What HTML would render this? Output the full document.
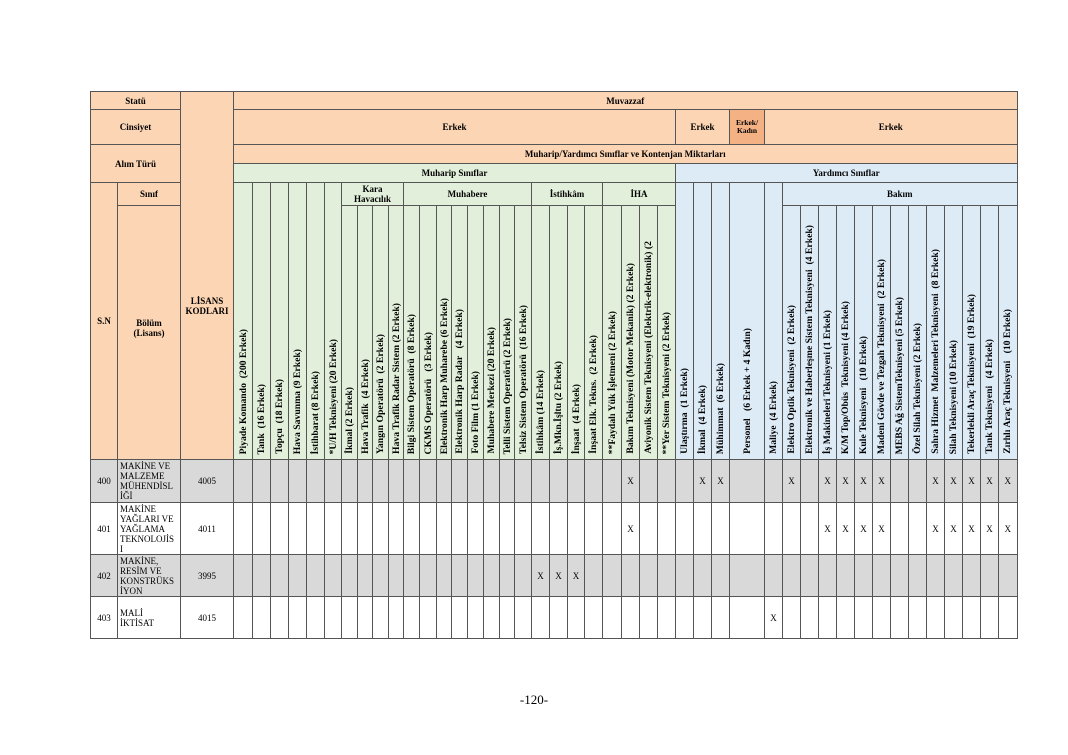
<!DOCTYPE html>
<html><head><meta charset="utf-8">
<style>
body{margin:0;width:1068px;height:755px;background:#fff;position:relative;overflow:hidden;font-family:"Liberation Serif",serif;}
table{position:absolute;left:90px;top:91px;width:926px;border-collapse:collapse;table-layout:fixed;}
td{border:1px solid #555;padding:0;text-align:center;vertical-align:middle;font-size:9px;line-height:10px;overflow:hidden;}
.o{background:#fcd5b4;font-weight:bold;}
.o2{background:#f4b183;font-weight:bold;font-size:7.5px;line-height:8px;}
.g{background:#e2efda;font-weight:bold;}
.b{background:#ddebf7;font-weight:bold;}
.v{vertical-align:bottom;padding-bottom:3px;}
.v div{writing-mode:vertical-rl;transform:rotate(180deg);white-space:nowrap;display:inline-block;font-size:9.7px;line-height:11px;font-weight:bold;}
.gr td{background:#d9d9d9;}
.d td{font-size:9px;font-weight:normal;}
.d td.n{text-align:left;padding-left:2px;line-height:10px;font-size:9px;white-space:nowrap;}
.pg{position:absolute;left:0;width:1068px;top:692px;text-align:center;font-size:13px;}
</style></head><body>
<table>
<colgroup>
<col style="width:27px"><col style="width:63px"><col style="width:53px">
<col style="width:19px"><col style="width:18px"><col style="width:18px"><col style="width:18px"><col style="width:18px"><col style="width:17px">
<col style="width:16px"><col style="width:15px"><col style="width:16px"><col style="width:15px">
<col style="width:16px"><col style="width:17px"><col style="width:15px"><col style="width:16px"><col style="width:16px"><col style="width:16px"><col style="width:15px"><col style="width:17px">
<col style="width:18px"><col style="width:18px"><col style="width:17px"><col style="width:18px">
<col style="width:19px"><col style="width:18px"><col style="width:18px"><col style="width:18px">
<col style="width:18px"><col style="width:18px"><col style="width:18px"><col style="width:35px"><col style="width:18px">
<col style="width:18px"><col style="width:18px"><col style="width:18px"><col style="width:18px"><col style="width:18px"><col style="width:18px"><col style="width:18px"><col style="width:18px"><col style="width:18px"><col style="width:18px"><col style="width:18px"><col style="width:18px"><col style="width:18px">
</colgroup>
<tr style="height:18px"><td class="o" colspan="2">Statü</td><td class="o" rowspan="6" style="padding-top:60px">LİSANS<br>KODLARI</td><td class="o" colspan="44">Muvazzaf</td></tr>
<tr style="height:35px"><td class="o" colspan="2">Cinsiyet</td><td class="o" colspan="26">Erkek</td><td class="o" colspan="3">Erkek</td><td class="o2">Erkek/<br>Kadın</td><td class="o" colspan="14">Erkek</td></tr>
<tr style="height:19px"><td class="o" colspan="2" rowspan="2">Alım Türü</td><td class="o" colspan="44">Muharip/Yardımcı Sınıflar ve Kontenjan Miktarları</td></tr>
<tr style="height:19px"><td class="g" colspan="26">Muharip Sınıflar</td><td class="b" colspan="18">Yardımcı Sınıflar</td></tr>
<tr style="height:23px"><td class="o" rowspan="2">S.N</td><td class="o">Sınıf</td>
<td class="g v" rowspan="2"><div>Piyade Komando&nbsp; (200 Erkek)</div></td>
<td class="g v" rowspan="2"><div>Tank&nbsp; (16 Erkek)</div></td>
<td class="g v" rowspan="2"><div>Topçu&nbsp; (18 Erkek)</div></td>
<td class="g v" rowspan="2"><div>Hava Savunma (9 Erkek)</div></td>
<td class="g v" rowspan="2"><div>İstihbarat (8 Erkek)</div></td>
<td class="g v" rowspan="2"><div>*U/H Teknisyeni (20 Erkek)</div></td>
<td class="g" colspan="4">Kara<br>Havacılık</td><td class="g" colspan="8">Muhabere</td><td class="g" colspan="4">İstihkâm</td><td class="g" colspan="4">İHA</td>
<td class="b v" rowspan="2"><div>Ulaştırma&nbsp; (1 Erkek)</div></td>
<td class="b v" rowspan="2"><div>İkmal&nbsp; (4 Erkek)</div></td>
<td class="b v" rowspan="2"><div>Mühimmat&nbsp; (6 Erkek)</div></td>
<td class="b v" rowspan="2"><div>Personel&nbsp;&nbsp; (6 Erkek + 4 Kadın)</div></td>
<td class="b v" rowspan="2"><div>Maliye&nbsp; (4 Erkek)</div></td>
<td class="b" colspan="13">Bakım</td></tr>
<tr style="height:254px"><td class="o" style="vertical-align:top;padding-top:112px">Bölüm<br>(Lisans)</td>
<td class="g v"><div>İkmal (2 Erkek)</div></td>
<td class="g v"><div>Hava Trafik&nbsp; (4 Erkek)</div></td>
<td class="g v"><div>Yangın Operatörü&nbsp; (2 Erkek)</div></td>
<td class="g v"><div>Hava Trafik Radar Sistem (2 Erkek)</div></td>
<td class="g v"><div>Bilgi Sistem Operatörü&nbsp; (8 Erkek)</div></td>
<td class="g v"><div>CKMS Operatörü&nbsp;&nbsp; (3 Erkek)</div></td>
<td class="g v"><div>Elektronik Harp Muharebe (6 Erkek)</div></td>
<td class="g v"><div>Elektronik Harp Radar&nbsp;&nbsp; (4 Erkek)</div></td>
<td class="g v"><div>Foto Film (1 Erkek)</div></td>
<td class="g v"><div>Muhabere Merkezi (20 Erkek)</div></td>
<td class="g v"><div>Telli Sistem Operatörü (2 Erkek)</div></td>
<td class="g v"><div>Telsiz Sistem Operatörü&nbsp; (16 Erkek)</div></td>
<td class="g v"><div>İstihkâm (14 Erkek)</div></td>
<td class="g v"><div>İş.Mkn.İşltu (2 Erkek)</div></td>
<td class="g v"><div>İnşaat&nbsp; (4 Erkek)</div></td>
<td class="g v"><div>İnşaat Elk. Tekns.&nbsp; (2 Erkek)</div></td>
<td class="g v"><div>**Faydalı Yük İşletmeni (2 Erkek)</div></td>
<td class="g v"><div>Bakım Teknisyeni (Motor Mekanik) (2 Erkek)</div></td>
<td class="g v"><div>Aviyonik Sistem Teknisyeni (Elektrik-elektronik) (2</div></td>
<td class="g v"><div>**Yer Sistem Teknisyeni (2 Erkek)</div></td>
<td class="b v"><div>Elektro Optik Teknisyeni&nbsp; (2 Erkek)</div></td>
<td class="b v"><div>Elektronik ve Haberleşme Sistem Teknisyeni&nbsp; (4 Erkek)</div></td>
<td class="b v"><div>İş Makineleri Teknisyeni (1 Erkek)</div></td>
<td class="b v"><div>K/M Top/Obüs&nbsp; Teknisyeni (4 Erkek)</div></td>
<td class="b v"><div>Kule Teknisyeni&nbsp;&nbsp; (10 Erkek)</div></td>
<td class="b v"><div>Madeni Gövde ve Tezgah Teknisyeni&nbsp; (2 Erkek)</div></td>
<td class="b v"><div>MEBS Ağ SistemTeknisyeni (5 Erkek)</div></td>
<td class="b v"><div>Özel Silah Teknisyeni (2 Erkek)</div></td>
<td class="b v"><div>Sahra Hizmet&nbsp; Malzemeleri Teknisyeni&nbsp; (8 Erkek)</div></td>
<td class="b v"><div>Silah Teknisyeni (10 Erkek)</div></td>
<td class="b v"><div>Tekerlekli Araç Teknisyeni&nbsp; (19 Erkek)</div></td>
<td class="b v"><div>Tank Teknisyeni&nbsp;&nbsp; (4 Erkek)</div></td>
<td class="b v"><div>Zırhlı Araç Teknisyeni&nbsp;&nbsp; (10 Erkek)</div></td>
</tr>
<tr class="d gr" style="height:43px"><td>400</td><td class="n">MAKİNE VE<br>MALZEME<br>MÜHENDİSL<br>İĞİ</td><td>4005</td>
<td></td><td></td><td></td><td></td><td></td><td></td><td></td><td></td><td></td><td></td><td></td><td></td><td></td><td></td><td></td><td></td><td></td><td></td><td></td><td></td><td></td><td></td><td></td><td>X</td><td></td><td></td><td></td><td>X</td><td>X</td><td></td><td></td><td>X</td><td></td><td>X</td><td>X</td><td>X</td><td>X</td><td></td><td></td><td>X</td><td>X</td><td>X</td><td>X</td><td>X</td></tr>
<tr class="d" style="height:52px"><td>401</td><td class="n">MAKİNE<br>YAĞLARI VE<br>YAĞLAMA<br>TEKNOLOJİS<br>I</td><td>4011</td>
<td></td><td></td><td></td><td></td><td></td><td></td><td></td><td></td><td></td><td></td><td></td><td></td><td></td><td></td><td></td><td></td><td></td><td></td><td></td><td></td><td></td><td></td><td></td><td>X</td><td></td><td></td><td></td><td></td><td></td><td></td><td></td><td></td><td></td><td>X</td><td>X</td><td>X</td><td>X</td><td></td><td></td><td>X</td><td>X</td><td>X</td><td>X</td><td>X</td></tr>
<tr class="d gr" style="height:42px"><td>402</td><td class="n">MAKİNE,<br>RESİM VE<br>KONSTRÜKS<br>İYON</td><td>3995</td>
<td></td><td></td><td></td><td></td><td></td><td></td><td></td><td></td><td></td><td></td><td></td><td></td><td></td><td></td><td></td><td></td><td></td><td></td><td>X</td><td>X</td><td>X</td><td></td><td></td><td></td><td></td><td></td><td></td><td></td><td></td><td></td><td></td><td></td><td></td><td></td><td></td><td></td><td></td><td></td><td></td><td></td><td></td><td></td><td></td><td></td></tr>
<tr class="d" style="height:42px"><td>403</td><td class="n">MALİ<br>İKTİSAT</td><td>4015</td>
<td></td><td></td><td></td><td></td><td></td><td></td><td></td><td></td><td></td><td></td><td></td><td></td><td></td><td></td><td></td><td></td><td></td><td></td><td></td><td></td><td></td><td></td><td></td><td></td><td></td><td></td><td></td><td></td><td></td><td></td><td>X</td><td></td><td></td><td></td><td></td><td></td><td></td><td></td><td></td><td></td><td></td><td></td><td></td><td></td></tr>
</table>
<div class="pg">-120-</div>
</body></html>
